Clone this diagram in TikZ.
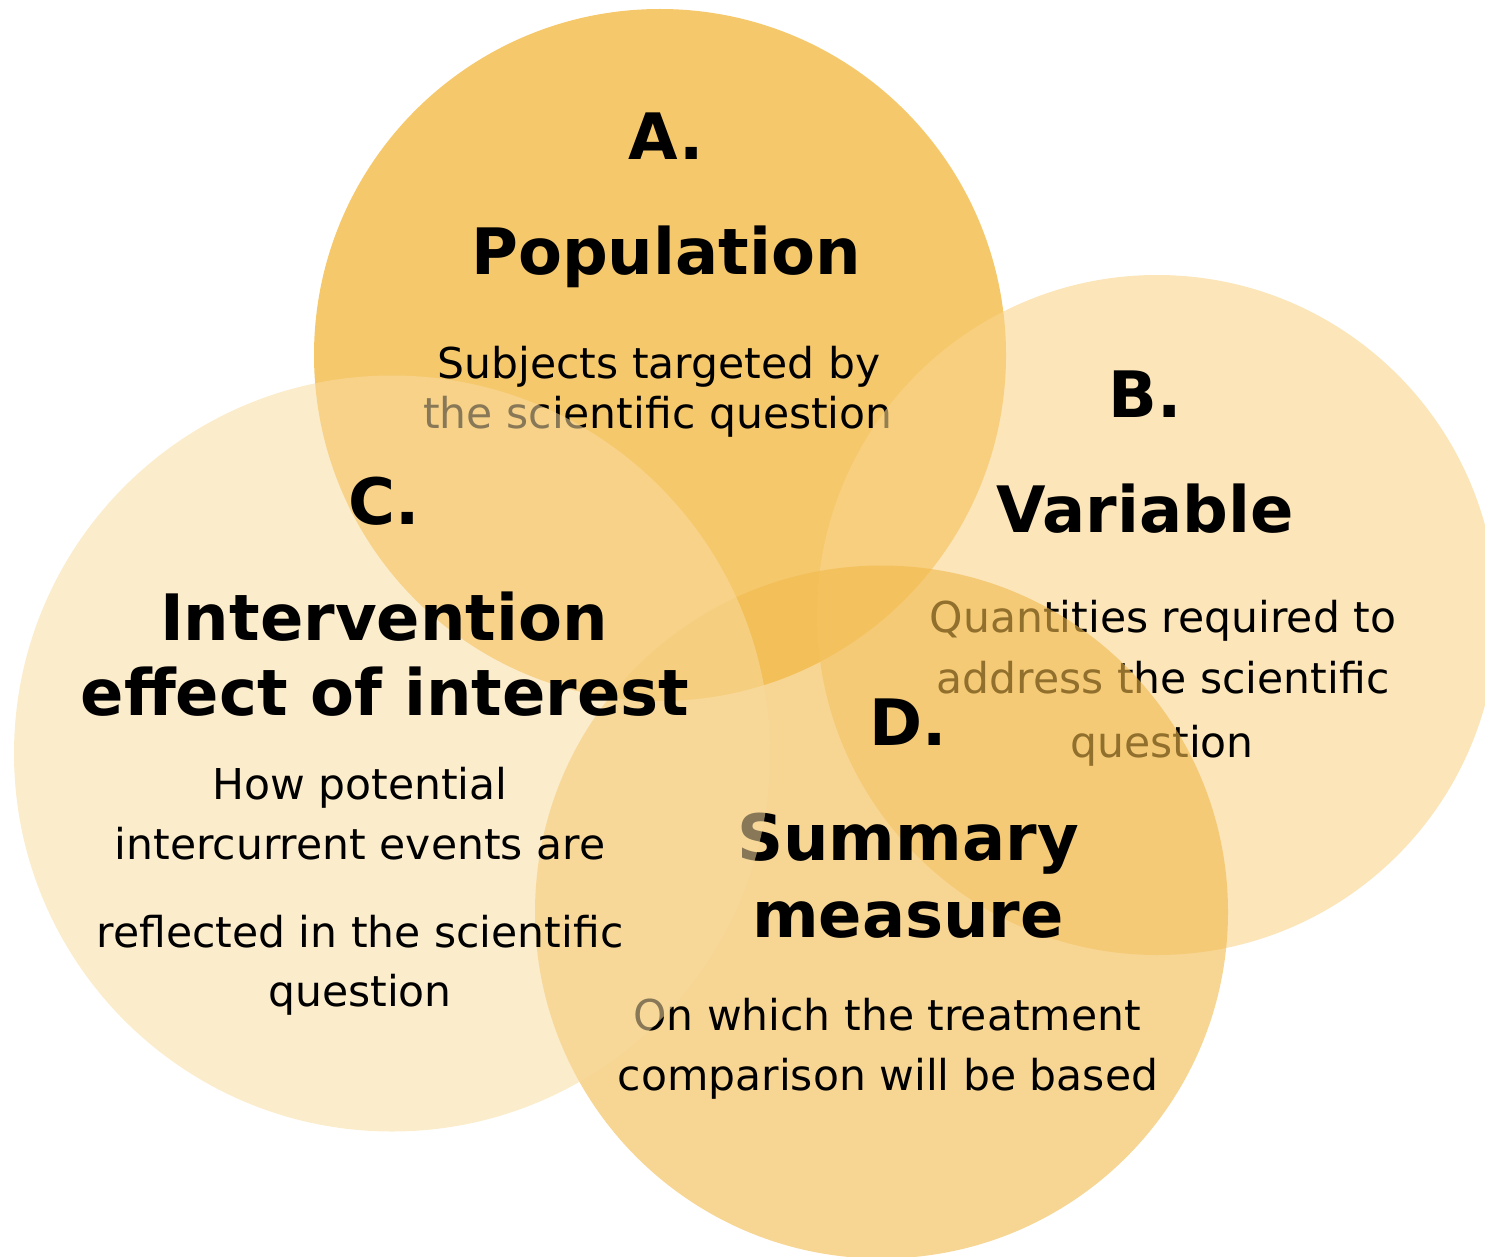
\documentclass[tikz,border=0pt]{standalone}
\usepackage{fontspec}
\setmainfont{DejaVu Sans}

% fill colours of the four discs
\definecolor{discA}{RGB}{246,200,108}
\definecolor{discB}{RGB}{248,212,138}
\definecolor{discC}{RGB}{248,220,160}
\definecolor{discD}{RGB}{242,185,75}

\begin{document}
\begin{tikzpicture}[x=1pt,y=-1pt,
  disc/.style={circle, draw=none, inner sep=0pt, minimum size=#1},
  heading/.style={anchor=base, inner sep=0pt, text=black,
    font=\fontsize{64}{70}\selectfont\bfseries},
  body/.style={anchor=base, inner sep=0pt, text=black,
    font=\fontsize{42.5}{50}\selectfont}]

\useasboundingbox (0,0) rectangle (1485,1257);

% A. Population
\node[disc=692pt, fill=discA] (discA) at (660,355) {};
\node[heading] (labA) at (666,160) {A.};
\node[heading] (titA) at (666,275) {Population};
\node[body] (txtA1) at (659,378) {Subjects targeted by};
\node[body] (txtA2) at (658,428) {the scientific question};

% B. Variable
\node[disc=680pt, fill=discB, fill opacity=0.6] (discB) at (1157,615) {};
\node[heading] (labB) at (1145,417) {B.};
\node[heading] (titB) at (1145,532) {Variable};
\node[body] (txtB1) at (1163,632) {Quantities required to};
\node[body] (txtB2) at (1163,693) {address the scientific};
\node[body] (txtB3) at (1162,757) {question};

% D. Summary measure
\node[disc=693pt, fill=discD, fill opacity=0.6] (discD) at (881.5,912) {};
\node[heading] (labD) at (908,745) {D.};
\node[heading] (titD1) at (908,860) {Summary};
\node[heading] (titD2) at (908,937) {measure};
\node[body] (txtD1) at (887,1030) {On which the treatment};
\node[body] (txtD2) at (888,1090) {comparison will be based};

% C. Intervention effect of interest
\node[disc=756pt, fill=discC, fill opacity=0.55] (discC) at (392,753.5) {};
\node[heading] (labC) at (384,524) {C.};
\node[heading] (titC1) at (384,640) {Intervention};
\node[heading] (titC2) at (385,715) {effect of interest};
\node[body] (txtC1) at (360,799) {How potential};
\node[body] (txtC2) at (360,859) {intercurrent events are};
\node[body] (txtC3) at (360,947) {reflected in the scientific};
\node[body] (txtC4) at (360,1006) {question};

\end{tikzpicture}
\end{document}
